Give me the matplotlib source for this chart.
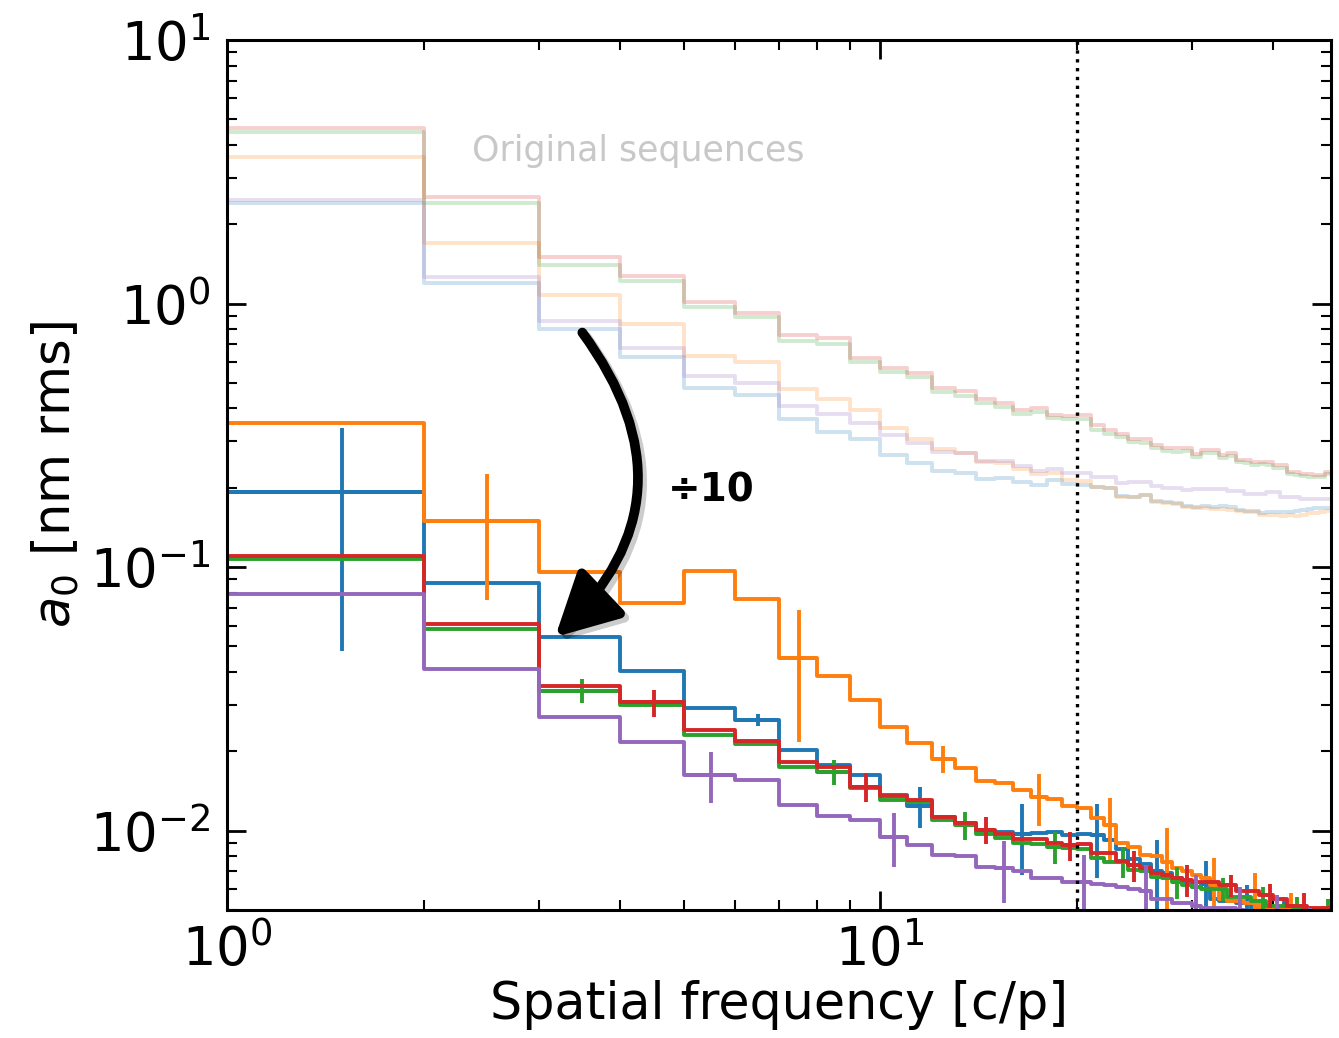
import numpy as np
import matplotlib
matplotlib.use("Agg")
import matplotlib.pyplot as plt
from matplotlib import patheffects

# Integer frequency bins: bin k spans [k, k+1)
edges = np.arange(0, 50)

# Residual amplitude per bin (nm rms) after processing
blue = [0.12, 0.193, 0.0868, 0.0545, 0.0404, 0.0293, 0.0263, 0.0203, 0.0178, 0.0162,
        0.0137, 0.0124, 0.0113, 0.0107, 0.0100, 0.0099, 0.0097, 0.0098, 0.0099, 0.0096,
        0.0097, 0.0096, 0.0092, 0.0085, 0.0078, 0.0075, 0.0070, 0.0069, 0.0066, 0.0063,
        0.0061, 0.0063, 0.0055, 0.0054, 0.0054, 0.0053, 0.0053, 0.0051, 0.0050, 0.0050,
        0.0049, 0.0049, 0.0048, 0.0048, 0.0048, 0.0047, 0.0047, 0.0047, 0.0046]
orange = [0.233, 0.352, 0.150, 0.0955, 0.0732, 0.0966, 0.0757, 0.0453, 0.0386, 0.0312,
          0.0248, 0.0215, 0.0187, 0.0173, 0.0154, 0.0151, 0.0143, 0.0134, 0.0132, 0.0124,
          0.0122, 0.0112, 0.0105, 0.0090, 0.0087, 0.0081, 0.0080, 0.0076, 0.0072, 0.0070,
          0.0068, 0.0066, 0.0062, 0.0055, 0.0054, 0.0054, 0.0053, 0.0053, 0.0051, 0.0051,
          0.0051, 0.0050, 0.0050, 0.0049, 0.0049, 0.0049, 0.0048, 0.0048, 0.0048]
green = [0.115, 0.107, 0.0584, 0.0340, 0.0300, 0.0231, 0.0214, 0.0174, 0.0167, 0.0145,
         0.0131, 0.0128, 0.0110, 0.0105, 0.0097, 0.0094, 0.0090, 0.0089, 0.0087, 0.0086,
         0.0085, 0.0079, 0.0076, 0.0076, 0.0071, 0.0070, 0.0067, 0.0066, 0.0064, 0.0062,
         0.0061, 0.0060, 0.0060, 0.0060, 0.0056, 0.0056, 0.0056, 0.0054, 0.0054, 0.0052,
         0.0052, 0.0052, 0.0052, 0.0051, 0.0051, 0.0050, 0.0050, 0.0050, 0.0051]
red = [0.130, 0.110, 0.0608, 0.0355, 0.0307, 0.0240, 0.0219, 0.0182, 0.0174, 0.0147,
       0.0135, 0.0131, 0.0113, 0.0107, 0.0101, 0.0097, 0.0093, 0.0093, 0.0090, 0.0088,
       0.0089, 0.0082, 0.0082, 0.0077, 0.0074, 0.0072, 0.0069, 0.0068, 0.0066, 0.0065,
       0.0064, 0.0064, 0.0064, 0.0062, 0.0062, 0.0059, 0.0059, 0.0059, 0.0057, 0.0057,
       0.0055, 0.0055, 0.0052, 0.0052, 0.0052, 0.0051, 0.0051, 0.0051, 0.0051]
purple = [0.080, 0.079, 0.041, 0.0269, 0.0217, 0.0163, 0.0156, 0.0125, 0.0114, 0.0110,
          0.0095, 0.00885, 0.0081, 0.0080, 0.0073, 0.0072, 0.0070, 0.0066, 0.0066, 0.0064,
          0.0064, 0.0063, 0.0062, 0.0061, 0.0060, 0.0059, 0.0055, 0.0055, 0.0053, 0.0053,
          0.0052, 0.0051, 0.0051, 0.0051, 0.0051, 0.0050, 0.0049, 0.0049, 0.0049, 0.0048,
          0.0048, 0.0048, 0.0048, 0.0047, 0.0047, 0.0047, 0.0047, 0.0046, 0.0046]

# Uncertainties, shown on every fifth bin of each sequence
blue_err_bins = [1, 6, 11, 16, 21, 26, 31, 36, 41, 46]
blue_err = [0.145, 0.0014, 0.0022, 0.0029, 0.0030, 0.0022, 0.0014, 0.0009, 0.0006, 0.0004]
orange_err_bins = [2, 7, 12, 17, 22, 27, 32, 37, 42, 47]
orange_err = [0.075, 0.0236, 0.0022, 0.0030, 0.0028, 0.0026, 0.0017, 0.0016, 0.0008, 0.0004]
green_err_bins = [3, 8, 13, 18, 23, 28, 33, 38, 43, 48]
green_err = [0.0035, 0.0018, 0.0013, 0.0012, 0.0010, 0.0009, 0.0006, 0.0007, 0.0005, 0.0004]
red_err_bins = [4, 9, 14, 19, 24, 29, 34, 39, 44]
red_err = [0.0036, 0.0018, 0.0012, 0.0011, 0.0010, 0.0009, 0.0006, 0.0006, 0.0006]
purple_err_bins = [5, 10, 15, 20, 25, 30, 35, 40, 45]
purple_err = [0.0036, 0.0022, 0.0019, 0.0017, 0.0015, 0.0016, 0.0011, 0.0009, 0.0004]

# Original (unprocessed) sequences
blue_orig = [2.41, 2.41, 1.20, 0.80, 0.627, 0.480, 0.448, 0.364, 0.326, 0.305,
             0.266, 0.248, 0.231, 0.228, 0.215, 0.218, 0.210, 0.205, 0.214, 0.207,
             0.205, 0.201, 0.200, 0.186, 0.185, 0.188, 0.178, 0.176, 0.175, 0.170,
             0.169, 0.170, 0.169, 0.170, 0.169, 0.164, 0.163, 0.163, 0.160, 0.162,
             0.162, 0.162, 0.162, 0.163, 0.165, 0.166, 0.167, 0.167, 0.168]
orange_orig = [3.60, 3.60, 1.69, 1.08, 0.838, 0.635, 0.600, 0.475, 0.433, 0.393,
               0.337, 0.307, 0.280, 0.271, 0.251, 0.248, 0.236, 0.226, 0.228, 0.214,
               0.212, 0.201, 0.200, 0.185, 0.184, 0.187, 0.177, 0.175, 0.174, 0.169,
               0.167, 0.167, 0.166, 0.166, 0.165, 0.163, 0.162, 0.162, 0.158, 0.157,
               0.157, 0.156, 0.157, 0.156, 0.157, 0.160, 0.161, 0.162, 0.163]
green_orig = [4.48, 4.48, 2.40, 1.405, 1.22, 0.968, 0.887, 0.724, 0.704, 0.600,
              0.549, 0.526, 0.461, 0.446, 0.419, 0.405, 0.382, 0.388, 0.369, 0.366,
              0.366, 0.332, 0.319, 0.312, 0.297, 0.296, 0.282, 0.275, 0.274, 0.275,
              0.262, 0.271, 0.270, 0.259, 0.263, 0.250, 0.249, 0.245, 0.246, 0.244,
              0.237, 0.238, 0.225, 0.224, 0.221, 0.220, 0.219, 0.220, 0.226]
red_orig = [4.63, 4.63, 2.53, 1.50, 1.276, 1.01, 0.919, 0.761, 0.739, 0.621,
            0.569, 0.545, 0.478, 0.464, 0.435, 0.419, 0.393, 0.401, 0.379, 0.374,
            0.379, 0.345, 0.330, 0.321, 0.305, 0.305, 0.290, 0.282, 0.282, 0.282,
            0.268, 0.278, 0.278, 0.266, 0.270, 0.256, 0.256, 0.251, 0.251, 0.251,
            0.243, 0.243, 0.230, 0.230, 0.226, 0.226, 0.224, 0.224, 0.230]
purple_orig = [2.47, 2.47, 1.266, 0.857, 0.68, 0.529, 0.499, 0.407, 0.380, 0.352,
               0.316, 0.296, 0.273, 0.270, 0.253, 0.252, 0.241, 0.232, 0.236, 0.228,
               0.228, 0.220, 0.220, 0.209, 0.211, 0.211, 0.203, 0.200, 0.200, 0.196,
               0.198, 0.198, 0.198, 0.198, 0.195, 0.195, 0.190, 0.190, 0.190, 0.193,
               0.193, 0.184, 0.184, 0.184, 0.182, 0.182, 0.182, 0.182, 0.182]

cutoff_freq = 20

colors = ["tab:blue", "tab:orange", "tab:green", "tab:red", "tab:purple"]
processed = [blue, orange, green, red, purple]
originals = [blue_orig, orange_orig, green_orig, red_orig, purple_orig]
err_bins = [blue_err_bins, orange_err_bins, green_err_bins, red_err_bins, purple_err_bins]
errs = [blue_err, orange_err, green_err, red_err, purple_err]

fig = plt.figure(figsize=(13.39, 10.38), dpi=100)
ax = fig.add_axes([0.1695, 0.1233, 0.8245, 0.8382])

for vals, c in zip(originals, colors):
    ax.step(edges, list(vals) + [vals[-1]], where="post", color=c, lw=2.8, alpha=0.22)

for vals, c, eb, ev in zip(processed, colors, err_bins, errs):
    ax.step(edges, list(vals) + [vals[-1]], where="post", color=c, lw=2.8)
    eb = np.array(eb)
    yv = np.array(vals)[eb]
    ax.errorbar(eb + 0.5, yv, xerr=0.5, yerr=ev, fmt="none", ecolor=c, elinewidth=2.8)

ax.axvline(cutoff_freq, color="black", ls=":", lw=2.4)

ax.set_xscale("log")
ax.set_yscale("log")
ax.set_xlim(1, 49)
ax.set_ylim(0.005, 10)

ax.set_xlabel("Spatial frequency [c/p]", fontsize=36.5, labelpad=2)
ax.set_ylabel("$a_0$ [nm rms]", fontsize=37, labelpad=6)

ax.tick_params(which="both", direction="in", top=True, right=True, labelsize=38)
ax.tick_params(which="major", length=14, width=2.0)
ax.tick_params(axis="x", which="major", pad=10)
ax.tick_params(axis="y", which="major", pad=12)
ax.tick_params(which="minor", length=7, width=1.5)
for sp in ax.spines.values():
    sp.set_linewidth(2.2)

ax.text(2.37, 3.8, "Original sequences", color="#c8c8c8", fontsize=25,
        ha="left", va="center")

shadow = [patheffects.SimpleLineShadow(offset=(3, -3), shadow_color="black",
                                       alpha=0.2),
          patheffects.Normal()]
ax.annotate("", xy=(3.18, 0.0543), xytext=(3.50, 0.776),
            arrowprops=dict(arrowstyle="-|>,head_length=0.95,head_width=0.5",
                            connectionstyle="arc3,rad=-0.44", color="black",
                            lw=7, shrinkA=0, shrinkB=0, mutation_scale=40,
                            path_effects=shadow))
ax.text(4.73, 0.196, "÷10", fontsize=28, fontweight="bold", ha="left", va="center")

fig.savefig("out.png", dpi=100)
